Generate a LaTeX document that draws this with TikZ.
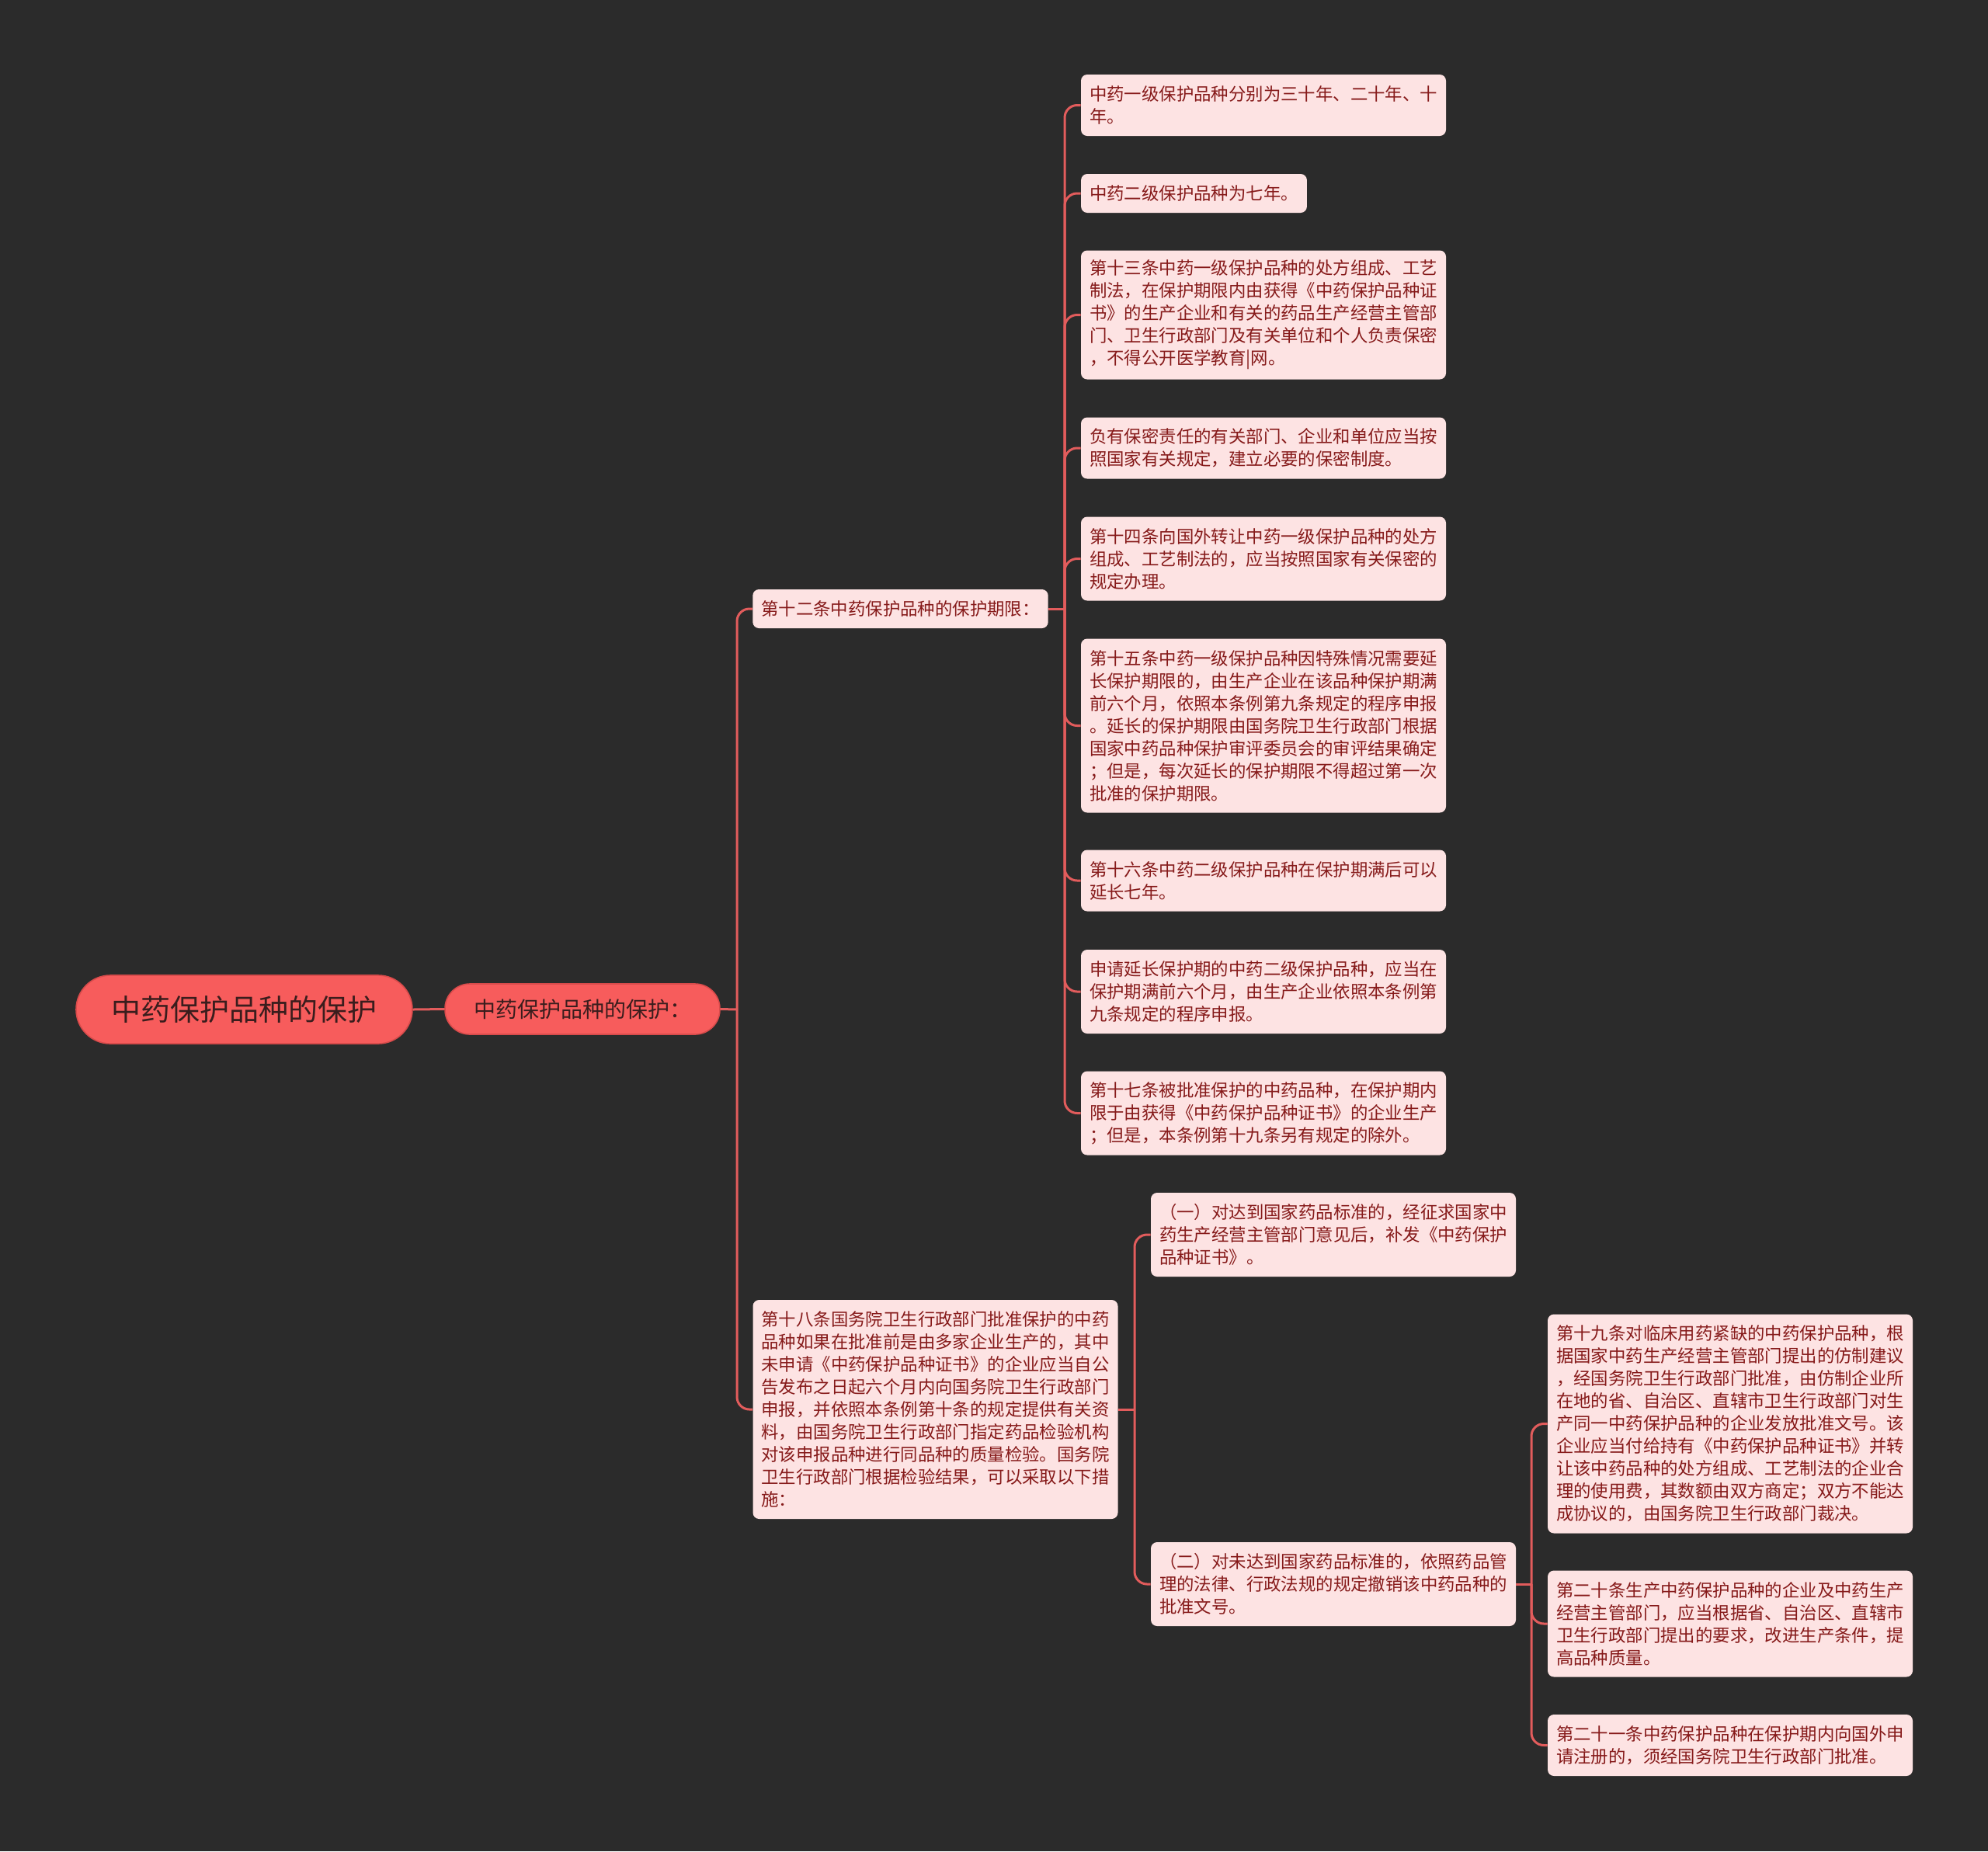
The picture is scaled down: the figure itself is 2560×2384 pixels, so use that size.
\documentclass[tikz,border=0pt]{standalone}
\usepackage{fontspec}
\setmainfont{Noto Sans CJK SC}
\definecolor{bg}{HTML}{2B2B2B}
\definecolor{rootfill}{HTML}{F75C5C}
\definecolor{rootline}{HTML}{D84B4B}
\definecolor{roottext}{HTML}{3A1D1D}
\definecolor{leaffill}{HTML}{FDE3E3}
\definecolor{leaftext}{HTML}{861A1A}
\definecolor{linkc}{HTML}{E25C5C}
\tikzset{
  rootbox/.style={draw=rootline, line width=0.8pt, fill=rootfill, text=roottext, rounded corners=22pt,
    minimum width=216.5pt, minimum height=44pt, inner sep=0pt, font=\fontsize{19pt}{23pt}\selectfont},
  firstbox/.style={draw=rootline, line width=0.8pt, fill=rootfill, text=roottext, rounded corners=16pt,
    minimum width=177pt, minimum height=32.5pt, inner sep=0pt, font=\fontsize{14pt}{17pt}\selectfont},
  leafbox/.style={fill=leaffill, text=leaftext, rounded corners=4pt, align=left,
    inner xsep=5.5pt, inner ysep=2pt, font=\fontsize{11.2pt}{14.5pt}\selectfont},
  nlines/.style={minimum height={14.5pt*#1+10.5pt}},
  link/.style={draw=linkc, line width=1.5pt, rounded corners=8pt},
  stub/.style={draw=linkc, line width=1.5pt}
}
\begin{document}
\begin{tikzpicture}[x=0.5pt,y=-0.5pt]
\useasboundingbox (0,0) rectangle (2560,2384);
\fill[bg] (0,0) rectangle (2560,2384);

% root and first level
\node[rootbox] (root) at (314.5,1300) {中药保护品种的保护};
\node[firstbox] (l1) at (750,1299.5) {中药保护品种的保护：};

% second level
\node[leafbox,nlines=1] (a) at (1159.5,784) {第十二条中药保护品种的保护期限：};
\node[leafbox,nlines=9] (b) at (1204.5,1815) {第十八条国务院卫生行政部门批准保护的中药\\品种如果在批准前是由多家企业生产的，其中\\未申请《中药保护品种证书》的企业应当自公\\告发布之日起六个月内向国务院卫生行政部门\\申报，并依照本条例第十条的规定提供有关资\\料，由国务院卫生行政部门指定药品检验机构\\对该申报品种进行同品种的质量检验。国务院\\卫生行政部门根据检验结果，可以采取以下措\\施：};

% leaves of a
\node[leafbox,nlines=2] (a1) at (1627,135.5) {中药一级保护品种分别为三十年、二十年、十\\年。};
\node[leafbox,nlines=1] (a2) at (1537.5,249) {中药二级保护品种为七年。};
\node[leafbox,nlines=5] (a3) at (1627,405.5) {第十三条中药一级保护品种的处方组成、工艺\\制法，在保护期限内由获得《中药保护品种证\\书》的生产企业和有关的药品生产经营主管部\\门、卫生行政部门及有关单位和个人负责保密\\，不得公开医学教育|网。};
\node[leafbox,nlines=2] (a4) at (1627,577) {负有保密责任的有关部门、企业和单位应当按\\照国家有关规定，建立必要的保密制度。};
\node[leafbox,nlines=3] (a5) at (1627,719.5) {第十四条向国外转让中药一级保护品种的处方\\组成、工艺制法的，应当按照国家有关保密的\\规定办理。};
\node[leafbox,nlines=7] (a6) at (1627,934.5) {第十五条中药一级保护品种因特殊情况需要延\\长保护期限的，由生产企业在该品种保护期满\\前六个月，依照本条例第九条规定的程序申报\\。延长的保护期限由国务院卫生行政部门根据\\国家中药品种保护审评委员会的审评结果确定\\；但是，每次延长的保护期限不得超过第一次\\批准的保护期限。};
\node[leafbox,nlines=2] (a7) at (1627,1134) {第十六条中药二级保护品种在保护期满后可以\\延长七年。};
\node[leafbox,nlines=3] (a8) at (1627,1277) {申请延长保护期的中药二级保护品种，应当在\\保护期满前六个月，由生产企业依照本条例第\\九条规定的程序申报。};
\node[leafbox,nlines=3] (a9) at (1627,1433.5) {第十七条被批准保护的中药品种，在保护期内\\限于由获得《中药保护品种证书》的企业生产\\；但是，本条例第十九条另有规定的除外。};

% children of b
\node[leafbox,nlines=3] (c1) at (1717,1590) {（一）对达到国家药品标准的，经征求国家中\\药生产经营主管部门意见后，补发《中药保护\\品种证书》。};
\node[leafbox,nlines=3] (c2) at (1717,2040) {（二）对未达到国家药品标准的，依照药品管\\理的法律、行政法规的规定撤销该中药品种的\\批准文号。};

% children of c2
\node[leafbox,nlines=9] (d1) at (2228,1833.5) {第十九条对临床用药紧缺的中药保护品种，根\\据国家中药生产经营主管部门提出的仿制建议\\，经国务院卫生行政部门批准，由仿制企业所\\在地的省、自治区、直辖市卫生行政部门对生\\产同一中药保护品种的企业发放批准文号。该\\企业应当付给持有《中药保护品种证书》并转\\让该中药品种的处方组成、工艺制法的企业合\\理的使用费，其数额由双方商定；双方不能达\\成协议的，由国务院卫生行政部门裁决。};
\node[leafbox,nlines=4] (d2) at (2228,2091) {第二十条生产中药保护品种的企业及中药生产\\经营主管部门，应当根据省、自治区、直辖市\\卫生行政部门提出的要求，改进生产条件，提\\高品种质量。};
\node[leafbox,nlines=2] (d3) at (2228,2247.5) {第二十一条中药保护品种在保护期内向国外申\\请注册的，须经国务院卫生行政部门批准。};

% junctions
\coordinate (j1) at (949,1300);
\coordinate (ja) at (1371,784);
\coordinate (jb) at (1461,1815);
\coordinate (jc) at (1972,2040);

% connectors
\draw[stub] (root.east) -- (l1.west);
\draw[stub] (l1.east) -- (j1);
\draw[link] (j1) |- (a.west);
\draw[link] (j1) |- (b.west);

\draw[stub] (a.east) -- (ja);
\foreach \n in {a1,a2,a3,a4,a5,a6,a7,a8,a9} {\draw[link] (ja) |- (\n.west);}

\draw[stub] (b.east) -- (jb);
\draw[link] (jb) |- (c1.west);
\draw[link] (jb) |- (c2.west);

\draw[stub] (c2.east) -- (jc);
\draw[link] (jc) |- (d1.west);
\draw[link] (jc) |- (d2.west);
\draw[link] (jc) |- (d3.west);
\end{tikzpicture}
\end{document}
